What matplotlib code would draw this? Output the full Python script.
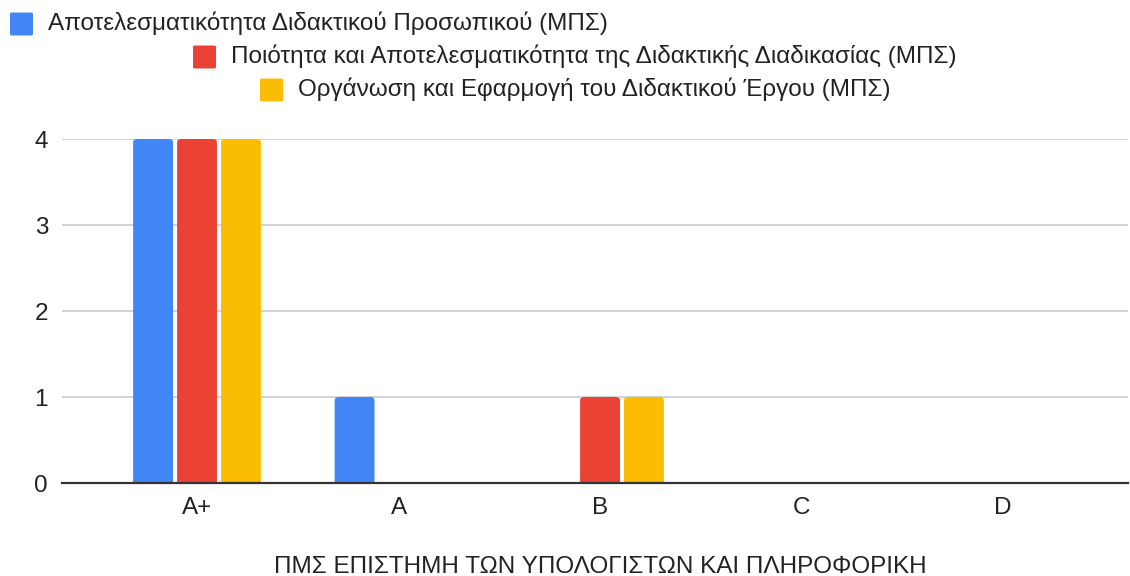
import matplotlib
matplotlib.use('Agg')
import matplotlib.pyplot as plt
from matplotlib.patches import FancyBboxPatch, Rectangle
import numpy as np

plt.rcParams['font.family'] = ['Liberation Sans', 'DejaVu Sans']

categories = ['A+', 'A', 'B', 'C', 'D']
series_names = [
    'Αποτελεσματικότητα Διδακτικού Προσωπικού (ΜΠΣ)',
    'Ποιότητα και Αποτελεσματικότητα της Διδακτικής Διαδικασίας (ΜΠΣ)',
    'Οργάνωση και Εφαρμογή του Διδακτικού Έργου (ΜΠΣ)',
]
staff = [4, 1, 0, 0, 0]
process = [4, 0, 1, 0, 0]
organisation = [4, 0, 1, 0, 0]
series_values = [staff, process, organisation]
colors = ['#4285F4', '#EA4335', '#FBBC04']
x_title = 'ΠΜΣ ΕΠΙΣΤΗΜΗ ΤΩΝ ΥΠΟΛΟΓΙΣΤΩΝ ΚΑΙ ΠΛΗΡΟΦΟΡΙΚΗ'

W, H = 1130, 576
fs = 17.5
fig = plt.figure(figsize=(W / 100, H / 100), dpi=100)
ax = fig.add_axes([62 / W, (H - 483) / H, (1128 - 62) / W, (483 - 139) / H])

# bars may stick out above the top gridline but not below the baseline
clip = Rectangle((0, 0), 1, 1.05, transform=ax.transAxes, visible=False)
ax.add_patch(clip)

x = np.arange(len(categories))
bar_w = 0.198
step = 0.218
for i, (vals, col) in enumerate(zip(series_values, colors)):
    offs = (i - 1) * step
    for xi, v in zip(x, vals):
        if v <= 0:
            continue
        patch = FancyBboxPatch((xi + offs - bar_w / 2, -0.05), bar_w, v + 0.05,
                               boxstyle='round,pad=0,rounding_size=0.02',
                               mutation_aspect=2.0,
                               facecolor=col, edgecolor='none', zorder=3)
        ax.add_patch(patch)
        patch.set_clip_path(clip)

ax.set_xlim(-0.67, 4.62)
ax.set_ylim(0, 4)
ax.set_yticks([0, 1, 2, 3, 4])
ax.set_xticks(x)
ax.set_xticklabels(categories)
ax.grid(axis='y', color='#cccccc', linewidth=1.2, zorder=0)
ax.set_axisbelow(True)
for s in ax.spines.values():
    s.set_visible(False)
ax.axhline(0, color='#333333', linewidth=1.6, zorder=4, clip_on=False)
ax.tick_params(length=0, labelsize=fs, colors='#222222')
ax.tick_params(axis='y', pad=10)
ax.tick_params(axis='x', pad=10)
ax.set_xlabel(x_title, fontsize=fs, color='#222222', va='center')
ax.xaxis.set_label_coords(0.5 + 5 / 1066, -(567 - 483) / (483 - 139))

# wrapped legend, as the original lays it out
legend_pos = [(10, 24), (193, 57), (260, 90)]
sq = 23
for (lx, ly), name, col in zip(legend_pos, series_names, colors):
    box = FancyBboxPatch((lx / W, (H - ly - sq / 2) / H), sq / W, sq / H,
                         boxstyle='round,pad=0,rounding_size=0.002',
                         transform=fig.transFigure, facecolor=col,
                         edgecolor='none')
    fig.patches.append(box)
    fig.text((lx + 38) / W, (H - ly + 1) / H, name, fontsize=fs, color='#222222',
             va='center', ha='left')

fig.savefig('out.png', dpi=100)
